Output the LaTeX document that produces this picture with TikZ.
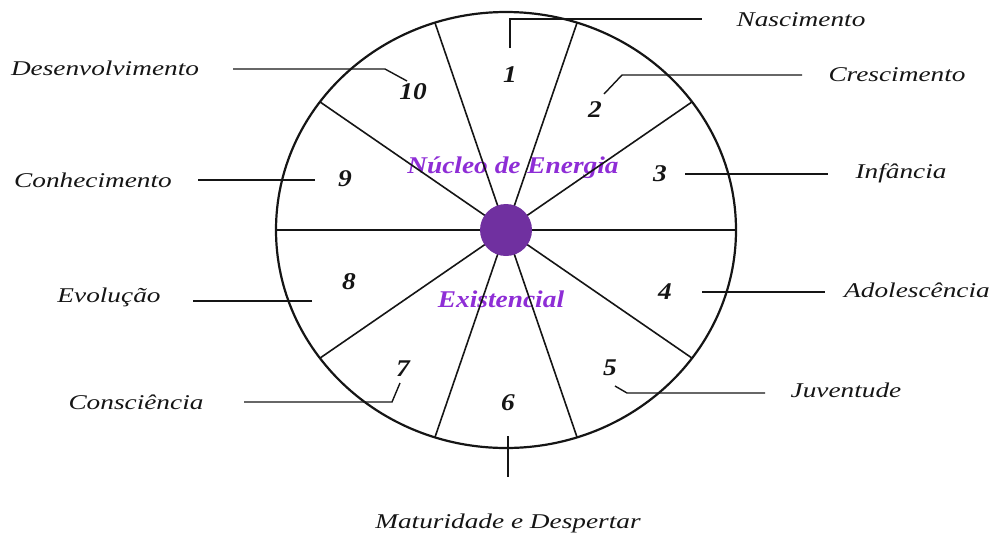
\documentclass[tikz,border=0pt]{standalone}
\usepackage{fontspec}
\setmainfont{Liberation Serif}
\newfontfamily\lblfont[FakeStretch=1.3]{Liberation Serif}
\newfontfamily\numfont[FakeStretch=1.14]{Liberation Serif}
\usetikzlibrary{positioning,calc}
\definecolor{nucleo}{HTML}{7030A0}
\definecolor{roxo}{HTML}{8E2DD6}
\definecolor{tinta}{HTML}{151515}

\begin{document}
\begin{tikzpicture}[x=1pt, y=-1pt,
    lbl/.style={font=\lblfont\itshape\fontsize{21}{25}\selectfont, text=tinta, inner sep=0pt},
    num/.style={font=\numfont\bfseries\itshape\fontsize{24}{28}\selectfont, text=tinta, inner sep=0pt},
    roxotxt/.style={font=\numfont\bfseries\itshape\fontsize{24}{28}\selectfont, text=roxo, inner sep=0pt},
    leader/.style={line width=1.4pt, tinta}]
  \useasboundingbox (0,0) rectangle (993,539);
  \coordinate (C) at (506,230);

  % purple captions under the spokes
  \node[roxotxt] (nucleo1) at (513,168) {Núcleo de Energia};
  \node[roxotxt] (nucleo2) at (501,299) {Existencial};

  % wheel
  \foreach \a in {0,36,72,108,144}
    \draw[line width=1.6pt, tinta] ($(C)+(\a:230 and 218)$) -- ($(C)+(\a+180:230 and 218)$);
  \draw[line width=2.2pt, tinta] (C) ellipse [x radius=230pt, y radius=218pt];
  \fill[nucleo] (C) circle (26pt);

  % sector numbers
  \node[num] (s1)  at (510,75)  {1};
  \node[num] (s2)  at (595,110) {2};
  \node[num] (s3)  at (660,174) {3};
  \node[num] (s4)  at (665,292) {4};
  \node[num] (s5)  at (610,368) {5};
  \node[num] (s6)  at (508,403) {6};
  \node[num] (s7)  at (403,369) {7};
  \node[num] (s8)  at (349,282) {8};
  \node[num] (s9)  at (345,179) {9};
  \node[num] (s10) at (413,92)  {10};

  % stage names
  \node[lbl] (nasc)  at (801,20)  {Nascimento};
  \node[lbl] (cresc) at (897,75)  {Crescimento};
  \node[lbl] (inf)   at (901,173) {Infância};
  \node[lbl] (adol)  at (917,290) {Adolescência};
  \node[lbl] (juv)   at (846,390) {Juventude};
  \node[lbl] (mat)   at (508,523) {Maturidade e Despertar};
  \node[lbl] (consc) at (136,402) {Consciência};
  \node[lbl] (evol)  at (109,297) {Evolução};
  \node[lbl] (conh)  at (93,180)  {Conhecimento};
  \node[lbl] (desen) at (105,68)  {Desenvolvimento};

  % leader lines
  \coordinate (l1a) at (510,48);  \coordinate (l1b) at (702,19);
  \coordinate (l2a) at (604,94);  \coordinate (l2b) at (622,75);  \coordinate (l2c) at (802,75);
  \coordinate (l3a) at (685,174); \coordinate (l3b) at (828,174);
  \coordinate (l4a) at (702,292); \coordinate (l4b) at (825,292);
  \coordinate (l5a) at (615,386); \coordinate (l5b) at (627,393); \coordinate (l5c) at (765,393);
  \coordinate (l6a) at (508,436); \coordinate (l6b) at (508,477);
  \coordinate (l7a) at (400,383); \coordinate (l7b) at (392,402); \coordinate (l7c) at (244,402);
  \coordinate (l8a) at (312,301); \coordinate (l8b) at (193,301);
  \coordinate (l9a) at (315,180); \coordinate (l9b) at (198,180);
  \coordinate (l10a) at (407,81); \coordinate (l10b) at (385,69); \coordinate (l10c) at (233,69);

  \draw[leader] (l1a) |- (l1b);
  \draw[leader] (l2a) -- (l2b) -- (l2c);
  \draw[leader] (l3a) -- (l3b);
  \draw[leader] (l4a) -- (l4b);
  \draw[leader] (l5a) -- (l5b) -- (l5c);
  \draw[leader] (l6a) -- (l6b);
  \draw[leader] (l7a) -- (l7b) -- (l7c);
  \draw[leader] (l8a) -- (l8b);
  \draw[leader] (l9a) -- (l9b);
  \draw[leader] (l10a) -- (l10b) -- (l10c);
\end{tikzpicture}
\end{document}
